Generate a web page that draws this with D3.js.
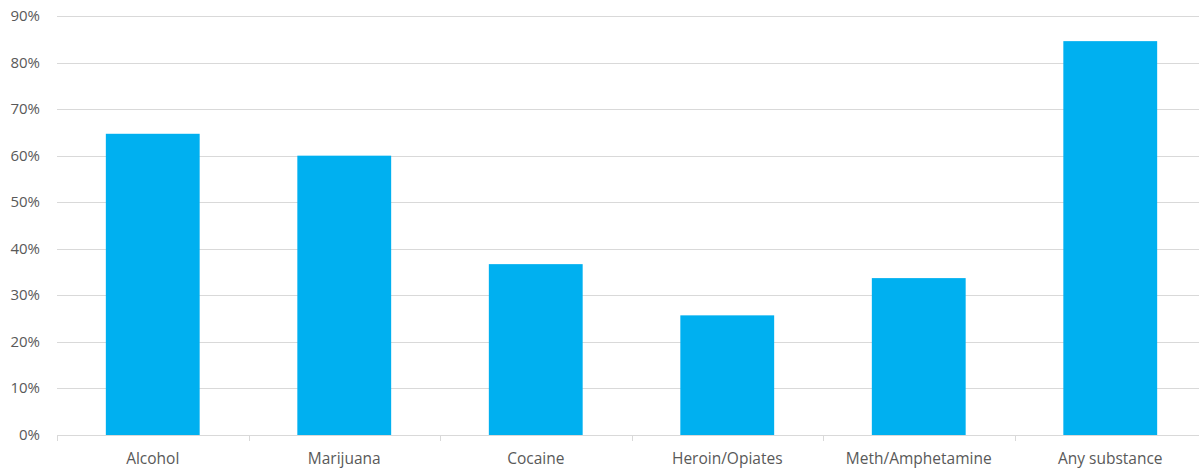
<!DOCTYPE html>
<html>
<head>
<meta charset="utf-8">
<script src="https://cdn.jsdelivr.net/npm/d3@7"></script>
<style>
  html, body { margin: 0; padding: 0; background: #fff; }
  svg { display: block; }
  text { font-family: "Open Sans", "Noto Sans", sans-serif; fill: #595959; }
</style>
</head>
<body>
<svg id="chart" width="1199" height="469"></svg>
<script>
// Share of respondents reporting use, by substance
const categories = ["Alcohol", "Marijuana", "Cocaine", "Heroin/Opiates", "Meth/Amphetamine", "Any substance"];
const values = [0.647, 0.600, 0.367, 0.257, 0.337, 0.846];
const yTicks = [0, 0.1, 0.2, 0.3, 0.4, 0.5, 0.6, 0.7, 0.8, 0.9];

const svg = d3.select("#chart");
const plotLeft = 57, plotRight = 1206, plotTop = 16, plotBottom = 435;

const x = d3.scaleBand().domain(categories).range([plotLeft, plotRight]).paddingInner(0.51).paddingOuter(0.255);
const y = d3.scaleLinear().domain([0, 0.9]).range([plotBottom, plotTop]);

// horizontal gridlines
svg.append("g")
  .selectAll("line")
  .data(yTicks.filter(d => d > 0))
  .join("line")
  .attr("x1", plotLeft).attr("x2", plotRight)
  .attr("y1", d => Math.round(y(d)) + 0.5).attr("y2", d => Math.round(y(d)) + 0.5)
  .attr("stroke", "#d9d9d9").attr("stroke-width", 1);

// bars
svg.append("g")
  .selectAll("rect")
  .data(categories)
  .join("rect")
  .attr("x", d => x(d))
  .attr("width", x.bandwidth())
  .attr("y", (d, i) => y(values[i]))
  .attr("height", (d, i) => plotBottom - y(values[i]))
  .attr("fill", "#00b0f0");

// category axis with ticks on band boundaries
const step = x.step();
const bounds = d3.range(categories.length + 1).map(i => plotLeft + i * step);
const xAxis = svg.append("g");
xAxis.append("line")
  .attr("x1", plotLeft).attr("x2", plotRight)
  .attr("y1", plotBottom + 0.5).attr("y2", plotBottom + 0.5)
  .attr("stroke", "#d9d9d9");
xAxis.selectAll("line.tick")
  .data(bounds)
  .join("line")
  .attr("class", "tick")
  .attr("x1", d => Math.round(d) + 0.5).attr("x2", d => Math.round(d) + 0.5)
  .attr("y1", plotBottom).attr("y2", plotBottom + 6)
  .attr("stroke", "#d9d9d9");
xAxis.selectAll("text")
  .data(categories)
  .join("text")
  .attr("x", d => x(d) + x.bandwidth() / 2)
  .attr("y", 464)
  .attr("text-anchor", "middle")
  .attr("font-size", "15.5px")
  .text(d => d);

// value axis labels
const fmt = d3.format(".0%");
svg.append("g")
  .selectAll("text")
  .data(yTicks)
  .join("text")
  .attr("x", 40)
  .attr("y", d => y(d) + 5)
  .attr("text-anchor", "end")
  .attr("font-size", "15px")
  .text(d => fmt(d));
</script>
</body>
</html>
